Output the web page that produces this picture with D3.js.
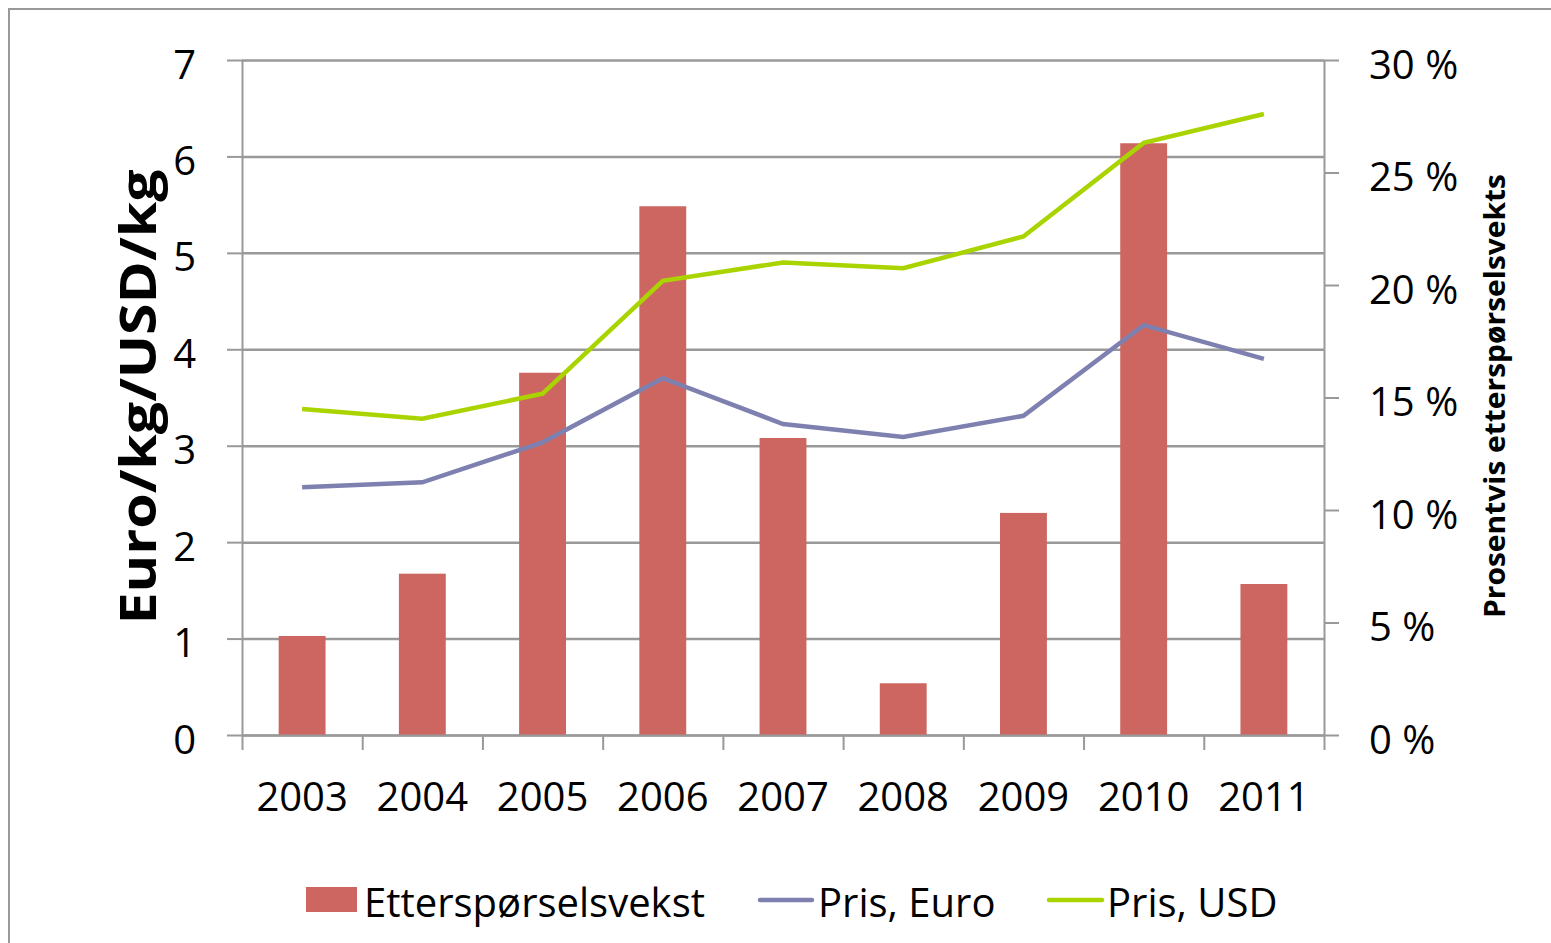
<!DOCTYPE html>
<meta charset="utf-8">
<style>
body { margin: 0; background: #fff; }
svg text { font-family: "Open Sans", "Liberation Sans", sans-serif; fill: #000; }
.axis path, .axis line { stroke: #999; stroke-width: 2px; }
.grid line { stroke: #999; stroke-width: 2.5px; }
.grid path { display: none; }
</style>
<body>
<svg width="1551" height="943"></svg>
</body>
<script src="https://d3js.org/d3.v7.min.js"></script>
<script>

// data
var years = ["2003", "2004", "2005", "2006", "2007", "2008", "2009", "2010", "2011"];
var growth = [0.044, 0.0717, 0.161, 0.235, 0.132, 0.023, 0.0987, 0.263, 0.0671]; // Etterspørselsvekst
var prisEuro = [2.57, 2.62, 3.035, 3.70, 3.225, 3.09, 3.31, 4.25, 3.90];
var prisUSD = [3.38, 3.28, 3.54, 4.71, 4.90, 4.84, 5.17, 6.14, 6.44];
var leftTicks = [0, 1, 2, 3, 4, 5, 6, 7];
var rightTicks = [0, 0.05, 0.10, 0.15, 0.20, 0.25, 0.30];

var svg = d3.select("svg");

// frame round the whole chart
svg.append("rect")
    .attr("x", 9).attr("y", 9)
    .attr("width", 1600).attr("height", 1000)
    .attr("fill", "none").attr("stroke", "#999").attr("stroke-width", 2);

var pLeft = 242, pRight = 1324, pTop = 60, pBottom = 735;

var x = d3.scaleBand().domain(years).range([pLeft, pRight]).padding(0);
var xEdge = d3.scaleLinear().domain([0, years.length]).range([pLeft, pRight]);
var yL = d3.scaleLinear().domain([0, 7]).range([pBottom, pTop]);
var yR = d3.scaleLinear().domain([0, 0.30]).range([pBottom, pTop]);

// gridlines
svg.append("g")
    .attr("class", "grid")
    .attr("transform", "translate(" + pLeft + ",0)")
    .call(d3.axisLeft(yL).tickValues(leftTicks).tickSize(-(pRight - pLeft)).tickFormat(""));

// left axis
var gl = svg.append("g")
    .attr("class", "axis")
    .attr("transform", "translate(" + pLeft + ",0)")
    .call(d3.axisLeft(yL).tickValues(leftTicks).tickFormat(d3.format("d"))
        .tickSize(15).tickSizeOuter(0).tickPadding(31));
gl.selectAll("text").attr("font-size", 40).attr("dy", "18px");

// right axis
var gr = svg.append("g")
    .attr("class", "axis")
    .attr("transform", "translate(" + pRight + ",0)")
    .call(d3.axisRight(yR).tickValues(rightTicks).tickSize(15).tickSizeOuter(0).tickPadding(30)
        .tickFormat(function(d) { return Math.round(d * 100) + " %"; }));
gr.selectAll("text").attr("font-size", 40).attr("dy", "18px");

// bars
var bw = x.bandwidth() * 0.39;
svg.append("g")
    .selectAll("rect")
    .data(growth)
    .enter()
    .append("rect")
    .attr("x", function(d, i) { return x(years[i]) + x.bandwidth() / 2 - bw / 2; })
    .attr("width", bw)
    .attr("y", function(d) { return yR(d); })
    .attr("height", function(d) { return pBottom - yR(d); })
    .attr("fill", "#CD6660");

// bottom axis: ticks at category edges, labels at centres
svg.append("g")
    .attr("class", "axis")
    .attr("transform", "translate(0," + pBottom + ")")
    .call(d3.axisBottom(xEdge).tickValues(d3.range(years.length + 1)).tickSize(15).tickSizeOuter(0).tickFormat(""));

var gx = svg.append("g")
    .attr("transform", "translate(0," + pBottom + ")")
    .call(d3.axisBottom(x).tickSize(0));
gx.select(".domain").remove();
gx.selectAll("text").attr("font-size", 40).attr("y", 76).attr("dy", null);

// lines
var line = d3.line()
    .x(function(d, i) { return x(years[i]) + x.bandwidth() / 2; })
    .y(function(d) { return yL(d); });

svg.append("path").datum(prisEuro)
    .attr("d", line).attr("fill", "none")
    .attr("stroke", "#7E80B0").attr("stroke-width", 4.5);

svg.append("path").datum(prisUSD)
    .attr("d", line).attr("fill", "none")
    .attr("stroke", "#AAD400").attr("stroke-width", 4.5);

// axis titles
svg.append("text")
    .attr("transform", "translate(156,397) rotate(-90)")
    .attr("text-anchor", "middle")
    .attr("font-size", 50).attr("font-weight", "bold")
    .attr("textLength", 455).attr("lengthAdjust", "spacingAndGlyphs")
    .text("Euro/kg/USD/kg");

svg.append("text")
    .attr("transform", "translate(1505,396) rotate(-90)")
    .attr("text-anchor", "middle")
    .attr("font-size", 29).attr("font-weight", "bold")
    .attr("textLength", 444).attr("lengthAdjust", "spacingAndGlyphs")
    .text("Prosentvis etterspørselsvekts");

// legend
var legend = svg.append("g");
legend.append("rect")
    .attr("x", 306).attr("y", 887).attr("width", 51).attr("height", 25)
    .attr("fill", "#CD6660");
legend.append("text").attr("x", 364).attr("y", 917).attr("font-size", 40).text("Etterspørselsvekst");

legend.append("line")
    .attr("x1", 760).attr("x2", 812).attr("y1", 900).attr("y2", 900)
    .attr("stroke", "#7E80B0").attr("stroke-width", 4.5).attr("stroke-linecap", "round");
legend.append("text").attr("x", 818).attr("y", 917).attr("font-size", 40).text("Pris, Euro");

legend.append("line")
    .attr("x1", 1049).attr("x2", 1102).attr("y1", 900).attr("y2", 900)
    .attr("stroke", "#AAD400").attr("stroke-width", 4.5).attr("stroke-linecap", "round");
legend.append("text").attr("x", 1107).attr("y", 917).attr("font-size", 40).text("Pris, USD");

</script>
